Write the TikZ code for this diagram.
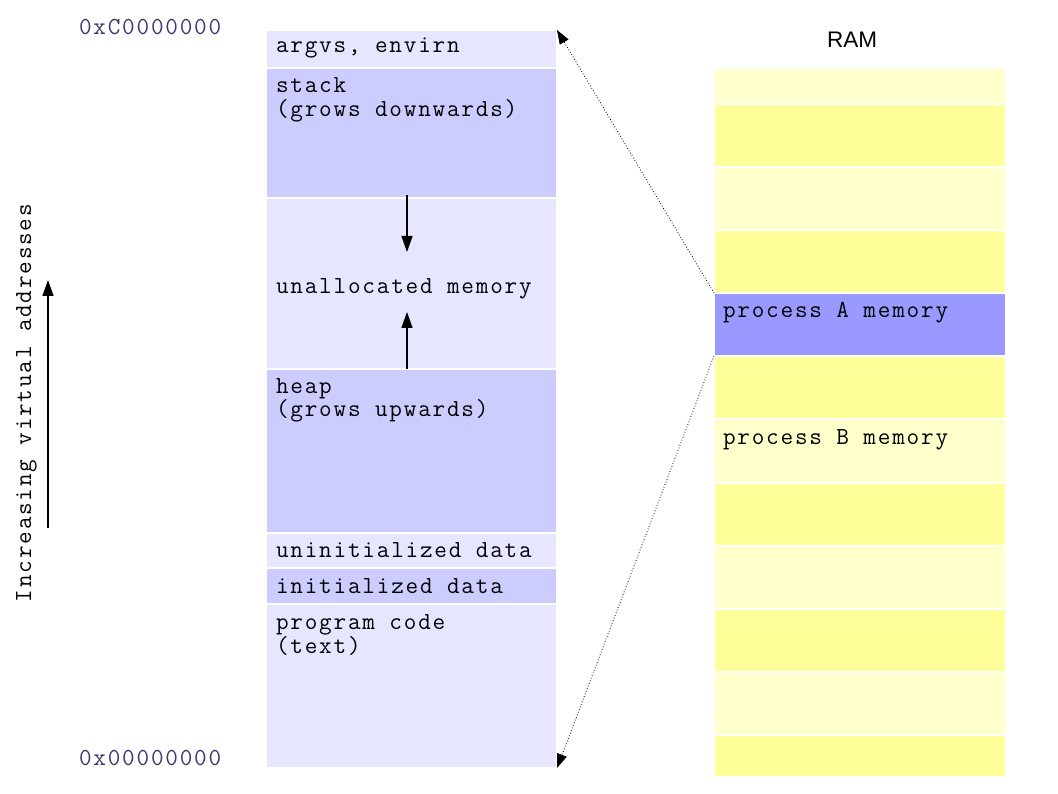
\documentclass[tikz,border=0pt]{standalone}
\usepackage{fontspec}
\setmainfont{Liberation Sans}
\setmonofont{Latin Modern Mono}[LetterSpace=7.3]
\usetikzlibrary{arrows.meta}
\definecolor{lav}{HTML}{E6E6FF}
\definecolor{lavmid}{HTML}{CCCCFF}
\definecolor{procA}{HTML}{9999FF}
\definecolor{ylight}{HTML}{FFFFCC}
\definecolor{ystrong}{HTML}{FFFF99}
\definecolor{addr}{HTML}{3A3A70}
\begin{document}
\begin{tikzpicture}[x=1pt,y=-1pt,
  seg/.style={draw=white, line width=1.5pt, anchor=north west, minimum width=291pt, inner sep=0pt, outer sep=0pt},
  lbl/.style={anchor=base west, inner sep=0pt, outer sep=0pt, align=left, font=\ttfamily\fontsize{24.5}{24}\selectfont, text=black},
  addrlbl/.style={lbl, text=addr},
  arr/.style={-{Triangle[length=16pt,width=11pt]}, line width=1.3pt},
  maparr/.style={-{Triangle[length=14pt,width=10pt]}, line width=0.8pt, dotted}
]
\useasboundingbox[fill=white] (0,0) rectangle (1058,794);

% virtual memory column
\node[seg, fill=lav,    minimum height=38pt]  (argv)   at (266,30)  {};
\node[seg, fill=lavmid, minimum height=130pt] (stack)  at (266,68)  {};
\node[seg, fill=lav,    minimum height=171pt] (unal)   at (266,198) {};
\node[seg, fill=lavmid, minimum height=164pt] (heap)   at (266,369) {};
\node[seg, fill=lav,    minimum height=35pt]  (bss)    at (266,533) {};
\node[seg, fill=lavmid, minimum height=36pt]  (data)   at (266,568) {};
\node[seg, fill=lav,    minimum height=164pt] (code)   at (266,604) {};

\node[lbl] (targv)  at (276,53)  {argvs, envirn};
\node[lbl] (tstack) at (276,117) {stack\\(grows downwards)};
\node[lbl] (tunal)  at (276,294) {unallocated memory};
\node[lbl] (theap)  at (276,417) {heap\\(grows upwards)};
\node[lbl] (tbss)   at (276,557) {uninitialized data};
\node[lbl] (tdata)  at (276,593) {initialized data};
\node[lbl] (tcode)  at (276,653) {program code\\(text)};

% addresses
\node[addrlbl] (hiaddr) at (79,35)  {0xC0000000};
\node[addrlbl] (loaddr) at (79,765) {0x00000000};

% increasing addresses
\node[lbl, rotate=90] (incr) at (31,602) {Increasing virtual addresses};
\coordinate (incrA) at (48,528);
\coordinate (incrB) at (48,280);
\draw[arr] (incrA) -- (incrB);

% growth arrows
\coordinate (sA) at (407,195);
\coordinate (sB) at (407,252);
\coordinate (hA) at (407,369);
\coordinate (hB) at (407,312);
\draw[arr] (sA) -- (sB);
\draw[arr] (hA) -- (hB);

% RAM
\node[font=\fontsize{22.5}{24}\selectfont, anchor=base] (ramt) at (852,48) {RAM};
\foreach \i/\t/\b/\c in {1/68/104/ylight, 2/104/167/ystrong, 3/167/230/ylight, 4/230/293/ystrong,
  5/293/356/procA, 6/356/419/ystrong, 7/419/483/ylight, 8/483/546/ystrong, 9/546/609/ylight,
  10/609/672/ystrong, 11/672/735/ylight, 12/735/777/ystrong}{
  \node[seg, fill=\c, minimum width=292pt, minimum height={\b-\t}] (r\i) at (714,\t) {};
}
\node[lbl] (tA) at (723,318) {process A memory};
\node[lbl] (tB) at (723,444) {process B memory};

% mapping
\draw[maparr] (r5.north west) -- (argv.north east);
\draw[maparr] (r5.south west) -- (code.south east);
\end{tikzpicture}
\end{document}
